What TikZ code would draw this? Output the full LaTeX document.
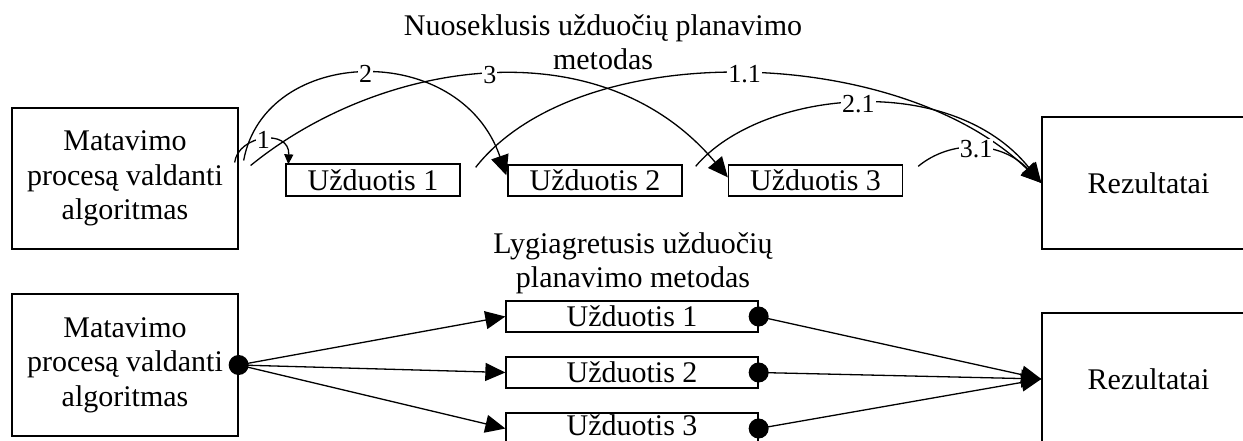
\documentclass[tikz,border=0pt]{standalone}
\usepackage{fontspec}
\setmainfont{Liberation Serif}
\usetikzlibrary{arrows.meta}
\begin{document}
\begin{tikzpicture}[x=1pt,y=-1pt,
  every node/.style={font=\fontsize{30}{34.5}\selectfont},
  box/.style={draw,line width=1.3pt,inner sep=0pt,align=center},
  taskbox/.style={box,minimum width=174pt,minimum height=31pt},
  ptaskbox/.style={box,minimum width=252pt,minimum height=31pt},
  algbox/.style={box,minimum width=226pt,minimum height=141pt},
  resbox/.style={box,minimum width=213pt,minimum height=132pt},
  title/.style={align=center,inner sep=0pt},
  dot/.style={circle,fill,inner sep=0pt,minimum size=20pt},
  lbl/.style={fill=white,inner sep=1pt,font=\fontsize{26}{30}\selectfont},
  link/.style={line width=1.3pt,-{Triangle[length=20pt,width=18pt]}},
  smalllink/.style={line width=1.3pt,-{Triangle[length=10pt,width=9pt]}},
]
\useasboundingbox (0,0) rectangle (1243,441);
\clip (0,0) rectangle (1243,441);

% ---------- sequential scheduling ----------
\node[title] (title1) at (603,42) {Nuoseklusis užduočių planavimo\\metodas};
\node[algbox] (alg1) at (125,178.5) {Matavimo\\procesą valdanti\\algoritmas};
\node[taskbox,minimum height=32pt] (u1) at (373,180) {Užduotis 1};
\node[taskbox] (u2) at (595,180.5) {Užduotis 2};
\node[taskbox] (u3) at (815.5,180.5) {Užduotis 3};
\node[resbox] (res1) at (1148.5,183) {Rezultatai};

\coordinate (s1) at ([shift={(-4,-16)}]alg1.east);
\coordinate (s2) at ([shift={(5,-18)}]alg1.east);
\coordinate (s3) at ([shift={(12,-13)}]alg1.east);
\coordinate (e1) at ([shift={(3,1)}]u1.north west);
\coordinate (e2) at ([shift={(-1,11)}]u2.north west);
\coordinate (e3) at ([shift={(0,13)}]u3.north west);
\coordinate (s11) at ([shift={(15,4)}]u1.north east);
\coordinate (s21) at ([shift={(13,2)}]u2.north east);
\coordinate (s31) at ([shift={(15,2)}]u3.north east);

\draw[smalllink] (s1) .. controls (238,135) and (290,128) .. (e1) node[lbl,pos=.5] (l1) {1};
\draw[link] (s2) .. controls (265,45) and (460,40) .. (e2) node[lbl,pos=.5] (l2) {2};
\draw[link] (s3) .. controls (380,60) and (600,25) .. (e3) node[lbl,pos=.5] (l3) {3};
\draw[link] (s11) .. controls (580,35) and (900,45) .. (res1.west) node[lbl,pos=.5] (l11) {1.1};
\draw[link] (s21) .. controls (760,90) and (950,70) .. (res1.west) node[lbl,pos=.5] (l21) {2.1};
\draw[link] (s31) .. controls (950,140) and (1000,140) .. (res1.west) node[lbl,pos=.5] (l31) {3.1};

% ---------- parallel scheduling ----------
\node[title] (title2) at (633,263.5) {Lygiagretusis užduočių\\planavimo metodas};
\node[algbox,minimum height=142pt] (alg2) at (125,365) {Matavimo\\procesą valdanti\\algoritmas};
\node[ptaskbox] (p1) at (632,316.5) {Užduotis 1};
\node[ptaskbox] (p2) at (632,372.5) {Užduotis 2};
\node[ptaskbox,text depth=7pt] (p3) at (632,428.5) {Užduotis 3};
\node[resbox] (res2) at (1148.5,379) {Rezultatai};

\foreach \p in {p1,p2,p3}{
  \draw[link] (alg2.east) -- (\p.west);
  \draw[link] (\p.east) -- (res2.west);
}
\node[dot] (d0) at (alg2.east) {};
\node[dot] (d1) at (p1.east) {};
\node[dot] (d2) at (p2.east) {};
\node[dot] (d3) at (p3.east) {};
\end{tikzpicture}
\end{document}
